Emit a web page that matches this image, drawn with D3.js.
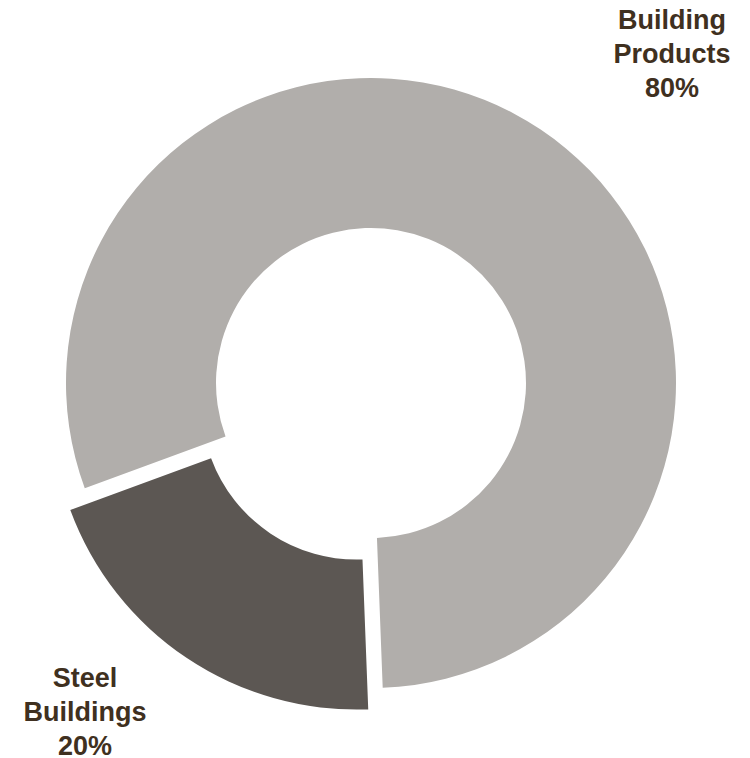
<!DOCTYPE html>
<html>
<head>
<meta charset="utf-8">
<script src="https://cdn.jsdelivr.net/npm/d3@7"></script>
<style>
  html, body { margin: 0; padding: 0; background: #fff; }
  #chart { width: 750px; height: 758px; }
  .lbl { font-family: "Liberation Sans", Arial, Helvetica, sans-serif; font-weight: bold; }
</style>
</head>
<body>
<div id="chart"></div>
<script>
// data
const segments = ["Steel Buildings", "Building Products"];
const shares = [20, 80];
const labelLines = [["Steel", "Buildings", "20%"], ["Building", "Products", "80%"]];
const colors = ["#5c5753", "#b1aeab"];

const width = 750, height = 758;
const cx = 371, cy = 383;
const outerR = 305, innerR = 155;
const explode = 26;

const svg = d3.select("#chart")
  .append("svg")
  .attr("width", width)
  .attr("height", height)
  .attr("viewBox", `0 0 ${width} ${height}`);

const g = svg.append("g")
  .attr("transform", `translate(${cx},${cy})`);

const start = 177.8 * Math.PI / 180;
const pie = d3.pie()
  .sort(null)
  .value(d => d)
  .startAngle(start)
  .endAngle(start + 2 * Math.PI);

const arc = d3.arc()
  .innerRadius(innerR)
  .outerRadius(outerR);

const arcs = pie(shares);

g.selectAll("path.slice")
  .data(arcs)
  .join("path")
    .attr("class", "slice")
    .attr("d", arc)
    .attr("fill", (d, i) => colors[i])
    .attr("transform", (d, i) => {
      if (i !== 0) return null;
      const mid = (d.startAngle + d.endAngle) / 2;
      return `translate(${explode * Math.sin(mid)},${-explode * Math.cos(mid)})`;
    });

// labels sit outside the ring
const labelPos = [[85, 687], [672, 29]];
const lineGap = 34;

svg.selectAll("text.lbl")
  .data(segments)
  .join("text")
    .attr("class", "lbl")
    .attr("x", (d, i) => labelPos[i][0])
    .attr("y", (d, i) => labelPos[i][1])
    .attr("text-anchor", "middle")
    .attr("font-size", 27)
    .attr("fill", "#3f3020")
    .each(function(d, i) {
      const t = d3.select(this);
      labelLines[i].forEach((line, k) => {
        t.append("tspan")
          .attr("x", labelPos[i][0])
          .attr("dy", k === 0 ? 0 : lineGap)
          .text(line);
      });
    });
</script>
</body>
</html>
